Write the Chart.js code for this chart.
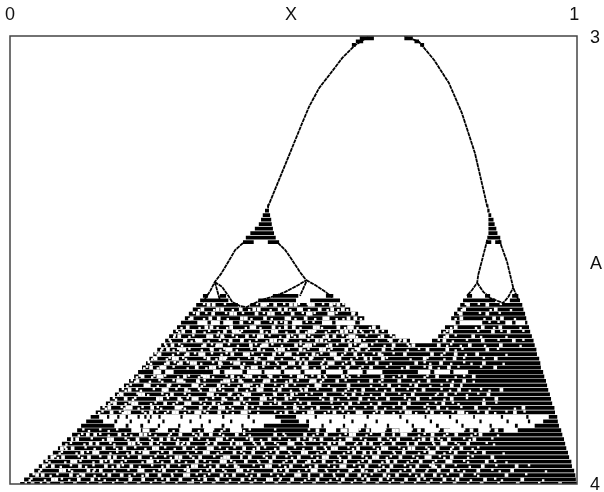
<!DOCTYPE html>
<html>
<head>
<meta charset="utf-8">
<script src="https://cdn.jsdelivr.net/npm/chart.js@4/dist/chart.umd.min.js"></script>
<style>
  body { margin: 0; background: #fff; }
  canvas { display: block; }
</style>
</head>
<body>
<canvas id="chart" width="604" height="492"></canvas>
<script>
// all X values below are in thousandths
const xTicks = [0, 0.498, 1];
const xTickLabels = ["0", "X", "1"];
const aTicks = [3.005, 3.509, 4.002];
const aTickLabels = ["3", "A", "4"];

// thin curves: X list and A list for each
const topLeftX = [457, 484, 518, 530, 548, 566, 589, 612, 637];
const topLeftA = [3.382, 3.299, 3.194, 3.158, 3.116, 3.087, 3.049, 3.02, 3.0];
const topRightX = [699, 725, 752, 778, 801, 824, 842, 846];
const topRightA = [3.0, 3.013, 3.054, 3.105, 3.172, 3.261, 3.359, 3.382];
const lobeOuterLeftX = [413, 399, 387, 374, 363, 355, 342];
const lobeOuterLeftA = [3.462, 3.478, 3.504, 3.531, 3.549, 3.569, 3.594];
const lobeOuterRightX = [475, 488, 500, 514, 525];
const lobeOuterRightA = [3.462, 3.478, 3.5, 3.527, 3.545];
const lobeBottomX = [363, 376, 387, 394, 408, 420, 434, 447, 470, 488, 511, 525];
const lobeBottomA = [3.549, 3.56, 3.58, 3.594, 3.603, 3.605, 3.596, 3.589, 3.58, 3.571, 3.556, 3.545];
const lobeTickX = [363, 372];
const lobeTickA = [3.549, 3.589];
const midLobeX = [525, 541, 559, 571];
const midLobeA = [3.545, 3.556, 3.571, 3.583];
const midTickX = [525, 514];
const midTickA = [3.549, 3.58];
const rightLobeLeftX = [846, 839, 830, 828, 819, 810];
const rightLobeLeftA = [3.455, 3.489, 3.533, 3.551, 3.567, 3.58];
const rightLobeRightX = [867, 881, 892, 901];
const rightLobeRightA = [3.455, 3.504, 3.562, 3.589];
const rightLobeBottomX = [828, 839, 851, 874, 883, 892];
const rightLobeBottomA = [3.551, 3.571, 3.585, 3.596, 3.583, 3.562];

// solid wedges near the top: A of the row, then black runs as from,to pairs
const wedgeA = [3.005, 3.012, 3.02, 3.38, 3.39, 3.4, 3.41, 3.42, 3.43, 3.44, 3.45, 3.46];
const wedgeRuns = [
  [620, 645, 699, 714],
  [613, 626, 717, 725],
  [606, 613, 727, 734],
  [456, 459, 846, 848],
  [452, 459, 846, 850],
  [448, 461, 848, 853],
  [445, 463, 848, 857],
  [441, 464, 848, 859],
  [434, 466, 848, 862],
  [426, 468, 848, 864],
  [418, 471, 846, 869],
  [413, 432, 457, 477, 844, 853, 860, 871],
];

// chaotic part, one row per 0.01 of A
const rowA = [
  3.58, 3.59, 3.6, 3.61, 3.62, 3.63, 3.64, 3.65, 3.66, 3.67, 3.68,
  3.69, 3.7, 3.71, 3.72, 3.73, 3.74, 3.75, 3.76, 3.77, 3.78, 3.79,
  3.8, 3.81, 3.82, 3.83, 3.84, 3.85, 3.86, 3.87, 3.88, 3.89, 3.9,
  3.91, 3.92, 3.93, 3.94, 3.95, 3.96, 3.97, 3.98, 3.99, 4.0,
];
const rowRuns = [
  [342, 351, 372, 383, 466, 511, 560, 573, 810, 819, 842, 851, 890, 901],
  [337, 387, 440, 507, 532, 585, 803, 860, 886, 904],
  [330, 404, 426, 594, 798, 908],
  [324, 603, 793, 910],
  [317, 617, 787, 913],
  [310, 628, 782, 915],
  [303, 332, 350, 356, 372, 378, 395, 500, 518, 553, 571, 577, 612, 620, 790, 797, 837, 878, 890, 896, 913, 917],
  [296, 656, 771, 920],
  [289, 670, 764, 922],
  [282, 683, 759, 925],
  [275, 709, 748, 928],
  [268, 930],
  [261, 933],
  [254, 934],
  [247, 938],
  [241, 940],
  [234, 941],
  [227, 254, 268, 275, 290, 360, 372, 380, 412, 420, 446, 451, 480, 486, 515, 522, 551, 560, 590, 598, 625, 632, 660, 723, 745, 752, 780, 786, 812, 945],
  [220, 947],
  [211, 950],
  [202, 952],
  [193, 954],
  [186, 957],
  [177, 959],
  [170, 961],
  [160, 965],
  [152, 966],
  [143, 158, 172, 176, 190, 194, 205, 209, 226, 230, 238, 242, 248, 251, 263, 267, 302, 306, 336, 339, 376, 380, 421, 425, 470, 507, 540, 544, 591, 594, 632, 636, 690, 694, 735, 738, 778, 782, 821, 824, 870, 874, 915, 919, 955, 970],
  [135, 165, 185, 190, 212, 216, 244, 248, 270, 274, 318, 322, 352, 356, 390, 394, 430, 434, 480, 512, 525, 530, 566, 570, 605, 609, 648, 652, 702, 706, 744, 748, 790, 794, 832, 836, 880, 884, 918, 922, 945, 971],
  [126, 185, 205, 210, 231, 236, 262, 266, 298, 302, 338, 342, 375, 380, 410, 414, 450, 530, 552, 556, 590, 594, 628, 632, 668, 672, 712, 716, 755, 760, 800, 804, 850, 854, 895, 900, 930, 973],
  [119, 215, 232, 262, 280, 300, 322, 345, 360, 390, 410, 560, 578, 600, 618, 640, 665, 690, 712, 735, 760, 780, 805, 830, 850, 875, 900, 977],
  [110, 979],
  [101, 982],
  [92, 984],
  [85, 986],
  [76, 989],
  [67, 991],
  [59, 995],
  [51, 996],
  [43, 1000],
  [34, 1002],
  [25, 1003],
  [18, 1005],
];
// larger white specks inside each row
const rowSpecks = [
  [],
  [],
  [352, 361, 447, 452, 470, 498, 506, 531, 537, 569, 582, 812, 846],
  [341, 368, 376, 409, 433, 441, 478, 489, 512, 516, 549, 571, 590, 805, 861],
  [333, 360, 392, 399, 437, 459, 466, 501, 528, 533, 566, 572, 608, 799, 846],
  [322, 355, 370, 411, 418, 452, 490, 495, 524, 557, 563, 600, 612, 800, 858, 872],
  [410, 436, 441, 471, 489],
  [315, 348, 357, 392, 428, 433, 467, 489, 503, 540, 546, 582, 601, 606, 645, 790, 838, 869],
  [307, 326, 381, 397, 403, 446, 466, 472, 510, 531, 537, 588, 596, 612, 650, 782, 856, 884],
  [300, 351, 357, 376, 420, 441, 447, 493, 515, 521, 562, 575, 603, 609, 660, 775, 821],
  [310, 332, 338, 391, 411, 463, 470, 488, 544, 552, 590, 613, 619, 675, 700, 770, 838, 893],
  [288, 345, 368, 374, 427, 449, 455, 507, 526, 532, 568, 603, 625, 631, 680, 715, 760, 815, 870],
  [280, 303, 309, 358, 385, 391, 441, 478, 484, 515, 551, 557, 596, 618, 662, 740, 775, 846],
  [265, 315, 337, 343, 394, 416, 422, 468, 490, 496, 538, 570, 576, 612, 655, 700, 748, 790, 828],
  [258, 290, 296, 352, 374, 380, 436, 459, 465, 510, 533, 578, 584, 630, 661, 735, 788, 861],
  [280, 303, 322, 328, 372, 399, 405, 450, 496, 502, 525, 566, 572, 608, 650, 720, 764, 840],
  [250, 268, 274, 331, 356, 362, 412, 430, 436, 484, 520, 526, 555, 598, 640, 705, 745, 778, 860],
  [],
  [235, 263, 269, 310, 345, 351, 394, 420, 426, 462, 512, 518, 548, 590, 660, 700, 757, 822],
  [226, 298, 304, 333, 381, 387, 408, 452, 458, 498, 534, 540, 580, 640, 690, 742, 805],
  [240, 246, 281, 325, 331, 370, 416, 422, 447, 490, 543, 549, 600, 672, 720, 783],
  [212, 272, 278, 312, 356, 362, 401, 440, 446, 478, 525, 575, 626, 679, 733, 796, 871],
  [198, 230, 236, 287, 352, 358, 389, 418, 424, 470, 500, 558, 609, 661, 714, 772, 848],
  [205, 262, 268, 300, 325, 331, 378, 410, 446, 452, 490, 570, 621, 670, 723, 783, 862],
  [186, 218, 224, 275, 312, 318, 361, 399, 405, 445, 478, 530, 603, 655, 707, 768, 840],
  [176, 208, 214, 252, 295, 301, 338, 372, 378, 418, 505, 546, 596, 648, 699, 759, 826, 910],
  [180, 205, 211, 250, 290, 296, 330, 336, 371, 412, 418, 490, 530, 536, 575, 616, 622, 660, 703, 709, 748, 796, 802, 845, 895],
  [],
  [],
  [],
  [238, 244, 347, 353, 408, 545, 589, 595, 634, 680, 686, 725, 772, 778, 818, 862],
  [138, 151, 194, 232, 240, 302, 339, 356, 402, 470, 523, 560, 604, 610, 661, 695, 701, 749, 791, 834],
  [119, 175, 181, 226, 268, 281, 321, 368, 374, 428, 460, 511, 533, 552, 598, 604, 655, 688, 733, 748, 778, 823],
  [143, 155, 212, 219, 250, 297, 316, 364, 403, 410, 448, 495, 501, 566, 585, 591, 628, 640, 680, 720, 766, 772, 812],
  [92, 111, 166, 203, 255, 261, 309, 352, 358, 415, 440, 481, 487, 540, 572, 578, 617, 661, 667, 708, 715, 758, 800],
  [128, 149, 155, 218, 238, 244, 285, 345, 351, 398, 431, 474, 519, 525, 565, 610, 628, 654, 698, 745, 751, 790, 840],
  [75, 94, 140, 176, 186, 230, 295, 302, 337, 381, 387, 425, 468, 512, 556, 562, 602, 645, 651, 692, 738, 744, 783, 855],
  [110, 116, 162, 180, 245, 251, 288, 331, 375, 381, 418, 462, 505, 530, 556, 594, 638, 670, 683, 728, 775, 781, 845],
  [60, 76, 124, 170, 192, 215, 280, 324, 330, 368, 400, 455, 461, 498, 543, 587, 593, 632, 676, 722, 750, 768, 838, 898],
  [90, 96, 139, 161, 229, 235, 273, 316, 360, 404, 410, 470, 491, 536, 542, 603, 625, 648, 670, 715, 760, 783, 830, 890],
  [48, 58, 108, 130, 176, 198, 243, 265, 310, 316, 375, 397, 441, 507, 513, 552, 597, 619, 664, 686, 731, 753, 800, 880],
  [76, 82, 122, 146, 213, 236, 280, 302, 346, 368, 412, 457, 463, 500, 545, 590, 635, 657, 702, 724, 770, 793, 842, 908],
  [40, 68, 92, 115, 160, 205, 228, 272, 317, 323, 361, 384, 428, 472, 494, 539, 584, 628, 651, 695, 741, 788, 836, 900, 975],
];
// small white specks, these sit off the row centre
const fineA = [
  3.578, 3.592, 3.598, 3.612, 3.618, 3.632, 3.638, 3.652, 3.658, 3.672, 3.678,
  3.692, 3.698, 3.712, 3.718, 3.732, 3.738, 3.752, 3.758, 3.772, 3.778, 3.792,
  3.798, 3.812, 3.818, 3.832, 3.838, 3.852, 3.858, 3.872, 3.878, 3.892, 3.898,
  3.912, 3.918, 3.932, 3.938, 3.952, 3.958, 3.972, 3.978, 3.992, 3.998,
];
const fineSpecks = [
  [],
  [],
  [344, 381, 438, 457, 486, 512, 528, 555, 575, 591, 808, 831, 870],
  [335, 362, 395, 424, 462, 497, 530, 563, 582, 598, 801, 852, 888],
  [326, 348, 383, 413, 450, 483, 519, 540, 579, 610, 795, 833, 868],
  [318, 344, 386, 428, 464, 506, 541, 579, 591, 622, 790, 841, 895],
  [360, 425, 462, 481, 526, 538, 600, 850, 866],
  [304, 336, 368, 385, 418, 444, 478, 515, 553, 594, 616, 638, 782, 826, 858, 905],
  [296, 325, 353, 395, 411, 472, 509, 541, 566, 604, 622, 661, 775, 830, 871, 910],
  [291, 318, 357, 378, 402, 441, 479, 505, 536, 556, 598, 615, 654, 680, 770, 835, 880],
  [283, 312, 330, 372, 412, 437, 471, 492, 529, 566, 604, 628, 671, 692, 760, 810, 866, 910],
  [277, 305, 341, 366, 404, 445, 482, 521, 562, 603, 621, 664, 708, 775, 799, 842, 905],
  [270, 298, 318, 356, 380, 428, 470, 494, 529, 570, 613, 636, 678, 725, 802, 865],
  [262, 289, 311, 339, 375, 419, 447, 488, 526, 545, 589, 626, 660, 765, 808, 880],
  [255, 283, 307, 345, 383, 424, 466, 504, 536, 576, 615, 640, 668, 740, 805, 840],
  [250, 275, 298, 339, 375, 415, 458, 475, 514, 552, 590, 610, 675, 745, 782, 818, 875],
  [243, 270, 290, 331, 372, 410, 449, 489, 524, 562, 600, 625, 668, 735, 795, 835],
  [],
  [230, 256, 275, 317, 340, 384, 415, 458, 498, 536, 558, 598, 618, 690, 740, 805],
  [222, 248, 270, 309, 335, 375, 412, 450, 490, 532, 551, 618, 655, 725, 785, 822],
  [214, 240, 284, 325, 345, 388, 428, 470, 505, 543, 600, 660, 710, 765, 800],
  [205, 232, 275, 318, 338, 378, 420, 441, 498, 517, 595, 612, 665, 718, 780, 815, 850],
  [195, 226, 270, 310, 352, 392, 413, 468, 508, 535, 590, 625, 690, 758, 790, 830],
  [188, 218, 262, 304, 348, 383, 425, 470, 510, 555, 582, 636, 708, 770, 840],
  [180, 212, 258, 296, 338, 376, 415, 470, 515, 570, 618, 690, 755, 785, 862],
  [170, 203, 228, 268, 310, 352, 395, 440, 510, 535, 585, 610, 665, 742, 775, 850, 895],
  [164, 195, 235, 261, 280, 318, 345, 385, 425, 470, 505, 565, 590, 650, 692, 738, 785, 830, 880, 912],
  [],
  [],
  [],
  [130, 160, 190, 225, 272, 320, 360, 380, 425, 470, 530, 575, 620, 665, 712, 760, 805, 850],
  [122, 175, 215, 258, 282, 330, 378, 425, 488, 538, 585, 632, 680, 725, 770, 818, 865],
  [110, 145, 205, 248, 292, 335, 385, 420, 478, 522, 575, 622, 670, 715, 760, 805, 855],
  [100, 132, 185, 232, 268, 305, 348, 392, 435, 475, 522, 552, 612, 658, 705, 752, 795, 858],
  [98, 134, 185, 222, 275, 330, 372, 398, 452, 505, 558, 600, 645, 690, 738, 785, 830],
  [88, 118, 178, 208, 262, 315, 368, 415, 455, 498, 545, 592, 640, 682, 725, 770, 812, 875],
  [80, 122, 160, 210, 258, 275, 320, 362, 410, 450, 490, 535, 582, 625, 675, 715, 762, 820],
  [70, 98, 148, 198, 235, 270, 312, 355, 398, 442, 485, 525, 575, 618, 660, 705, 750, 812, 880],
  [65, 108, 148, 200, 252, 300, 345, 385, 432, 478, 520, 565, 610, 655, 700, 745, 790, 862, 920],
  [52, 110, 148, 185, 255, 295, 338, 382, 430, 512, 562, 582, 632, 692, 738, 805, 868, 950],
  [42, 84, 125, 166, 221, 287, 331, 353, 419, 463, 486, 530, 574, 641, 709, 776, 824, 915],
  [35, 62, 105, 168, 190, 258, 324, 390, 435, 478, 523, 568, 612, 679, 747, 817, 872, 945],
  [28, 55, 138, 183, 250, 295, 339, 406, 450, 517, 561, 606, 673, 718, 764, 812, 866, 938],
];
// a third set of white specks on the other side of the row centre
const dustA = [
  3.662, 3.668, 3.682, 3.688, 3.702, 3.708, 3.722, 3.728, 3.742, 3.762, 3.768,
  3.782, 3.788, 3.802, 3.808, 3.822, 3.828, 3.842, 3.882, 3.888, 3.902, 3.908,
  3.922, 3.928, 3.942, 3.948, 3.962, 3.968, 3.982, 3.988,
];
const dustSpecks = [
  [300, 345, 370, 408, 455, 490, 525, 560, 580, 625, 640, 770],
  [292, 325, 368, 395, 432, 460, 500, 530, 590, 632, 675, 790],
  [285, 322, 352, 380, 425, 455, 478, 515, 560, 600, 650, 690, 785],
  [275, 300, 358, 388, 436, 465, 515, 540, 580, 612, 642, 705, 782],
  [268, 290, 340, 373, 402, 450, 472, 522, 565, 607, 632, 705, 790],
  [258, 298, 328, 358, 384, 430, 478, 510, 552, 594, 645, 680, 770],
  [252, 278, 312, 366, 405, 442, 482, 520, 558, 605, 640, 710, 770],
  [246, 292, 315, 360, 392, 435, 472, 515, 555, 596, 632, 735, 805],
  [238, 262, 315, 348, 392, 422, 470, 505, 540, 585, 620, 695, 760],
  [225, 252, 298, 335, 360, 405, 442, 480, 525, 560, 602, 680, 735, 790],
  [216, 265, 290, 345, 395, 432, 470, 510, 555, 595, 660, 715, 775],
  [208, 262, 300, 340, 378, 405, 438, 482, 528, 565, 640, 690, 745, 800],
  [200, 225, 255, 295, 335, 372, 428, 468, 515, 545, 600, 650, 705, 765, 835],
  [192, 245, 278, 318, 368, 405, 450, 488, 525, 595, 640, 700, 755, 810],
  [184, 222, 280, 315, 360, 398, 462, 498, 550, 600, 650, 700, 745, 810],
  [176, 205, 250, 290, 345, 370, 420, 462, 505, 590, 640, 690, 740, 795],
  [166, 198, 235, 262, 305, 355, 390, 430, 488, 520, 572, 630, 680, 735, 800],
  [158, 200, 240, 275, 310, 350, 395, 440, 480, 520, 558, 600, 645, 680, 720, 765, 810, 860],
  [140, 175, 260, 290, 335, 375, 415, 565, 610, 650, 695, 740, 790, 835],
  [128, 160, 205, 248, 285, 325, 372, 415, 485, 545, 595, 640, 680, 735, 775, 825],
  [110, 165, 210, 252, 298, 350, 395, 445, 495, 540, 585, 630, 675, 725, 765, 815],
  [108, 178, 228, 262, 308, 352, 392, 432, 470, 520, 575, 615, 662, 705, 750, 790, 845],
  [100, 150, 190, 240, 292, 325, 385, 432, 470, 520, 560, 608, 652, 698, 742, 782, 820],
  [92, 138, 190, 230, 270, 330, 375, 410, 462, 495, 552, 600, 640, 680, 735, 780, 825],
  [85, 128, 200, 250, 285, 325, 375, 410, 455, 500, 545, 585, 632, 668, 722, 770, 812],
  [65, 125, 170, 205, 262, 300, 345, 392, 440, 490, 540, 585, 625, 668, 712, 755, 805, 860],
  [90, 135, 182, 230, 270, 315, 355, 405, 445, 488, 532, 575, 620, 662, 710, 755, 815],
  [55, 105, 150, 210, 265, 310, 350, 378, 422, 480, 525, 560, 608, 655, 700, 740, 795, 855],
  [72, 120, 150, 212, 235, 288, 345, 385, 428, 475, 530, 575, 630, 672, 720, 765, 830],
  [38, 92, 158, 215, 270, 335, 365, 425, 480, 530, 580, 625, 670, 735, 785, 860],
];

const curves = [
  [topLeftX, topLeftA],
  [topRightX, topRightA],
  [lobeOuterLeftX, lobeOuterLeftA],
  [lobeOuterRightX, lobeOuterRightA],
  [lobeBottomX, lobeBottomA],
  [lobeTickX, lobeTickA],
  [midLobeX, midLobeA],
  [midTickX, midTickA],
  [rightLobeLeftX, rightLobeLeftA],
  [rightLobeRightX, rightLobeRightA],
  [rightLobeBottomX, rightLobeBottomA],
];
const GAP = { x: null, y: null };

/**
 * turns rows of from,to pairs into one broken line
 * @param {number[]} rows A value of each row
 * @param {number[][]} runs black runs of each row
 * @returns points for a scatter dataset
 */
function runsToPoints(rows, runs) {
  const points = [];
  rows.forEach((a, i) => {
    for (let j = 0; j < runs[i].length; j += 2) {
      points.push({ x: runs[i][j] / 1000, y: a }, { x: runs[i][j + 1] / 1000, y: a }, GAP);
    }
  });
  return points;
}

/**
 * flattens per row speck lists
 * @param {number[]} rows A value of each row
 * @param {number[][]} specks X values of each row
 * @returns points for a scatter dataset
 */
function specksToPoints(rows, specks) {
  const points = [];
  rows.forEach((a, i) => {
    specks[i].forEach((x) => points.push({ x: x / 1000, y: a }));
  });
  return points;
}

const curvePoints = [];
for (const [xs, as] of curves) {
  xs.forEach((x, i) => curvePoints.push({ x: x / 1000, y: as[i] }));
  curvePoints.push(GAP);
}

const frame = {
  id: "frame",
  afterDraw(chart) {
    const { ctx, chartArea: c } = chart;
    ctx.save();
    ctx.strokeStyle = "#444";
    ctx.lineWidth = 1.5;
    ctx.strokeRect(c.left, c.top, c.right - c.left, c.bottom - c.top);
    ctx.restore();
  },
};

new Chart(document.getElementById("chart"), {
  type: "scatter",
  data: {
    datasets: [
      { data: curvePoints, showLine: true, borderColor: "#000", borderWidth: 1.8, borderDash: [4, 0.6], pointRadius: 0, order: 1 },
      { data: specksToPoints(fineA, fineSpecks), showLine: false, pointStyle: "rect", pointRadius: 1.7, pointBorderWidth: 0, pointBackgroundColor: "#fff", order: 2 },
      { data: specksToPoints(dustA, dustSpecks), showLine: false, pointStyle: "rect", pointRadius: 1.7, pointBorderWidth: 0, pointBackgroundColor: "#fff", order: 2 },
      { data: specksToPoints(rowA, rowSpecks), showLine: false, pointStyle: "rect", pointRadius: 2.6, pointBorderWidth: 0, pointBackgroundColor: "#fff", order: 2 },
      { data: runsToPoints(rowA, rowRuns), showLine: true, borderColor: "#000", borderWidth: 3.8, pointRadius: 0, order: 3 },
      { data: runsToPoints(wedgeA, wedgeRuns), showLine: true, borderColor: "#000", borderWidth: 3.8, pointRadius: 0, order: 3 },
    ],
  },
  plugins: [frame],
  options: {
    responsive: false,
    animation: false,
    events: [],
    layout: { padding: { left: 10, bottom: 8, top: 0, right: 0 } },
    plugins: { legend: { display: false }, tooltip: { enabled: false } },
    scales: {
      x: {
        position: "top",
        min: 0,
        max: 1.005,
        grid: { display: false, drawTicks: false },
        border: { display: false },
        afterFit: (s) => { s.height = 36; s.paddingLeft = 0; s.paddingRight = 0; },
        afterBuildTicks: (s) => { s.ticks = xTicks.map((value) => ({ value })); },
        ticks: {
          autoSkip: false,
          maxRotation: 0,
          padding: 10,
          color: "#111",
          font: { family: "Liberation Sans", size: 18 },
          callback: (v, i) => xTickLabels[i],
        },
      },
      y: {
        position: "right",
        reverse: true,
        min: 3,
        max: 4,
        grid: { display: false, drawTicks: false },
        border: { display: false },
        afterFit: (s) => { s.width = 27; s.paddingTop = 0; s.paddingBottom = 0; },
        afterBuildTicks: (s) => { s.ticks = aTicks.map((value) => ({ value })); },
        ticks: {
          autoSkip: false,
          padding: 13,
          color: "#111",
          font: { family: "Liberation Sans", size: 18 },
          callback: (v, i) => aTickLabels[i],
        },
      },
    },
  },
});
</script>
</body>
</html>
